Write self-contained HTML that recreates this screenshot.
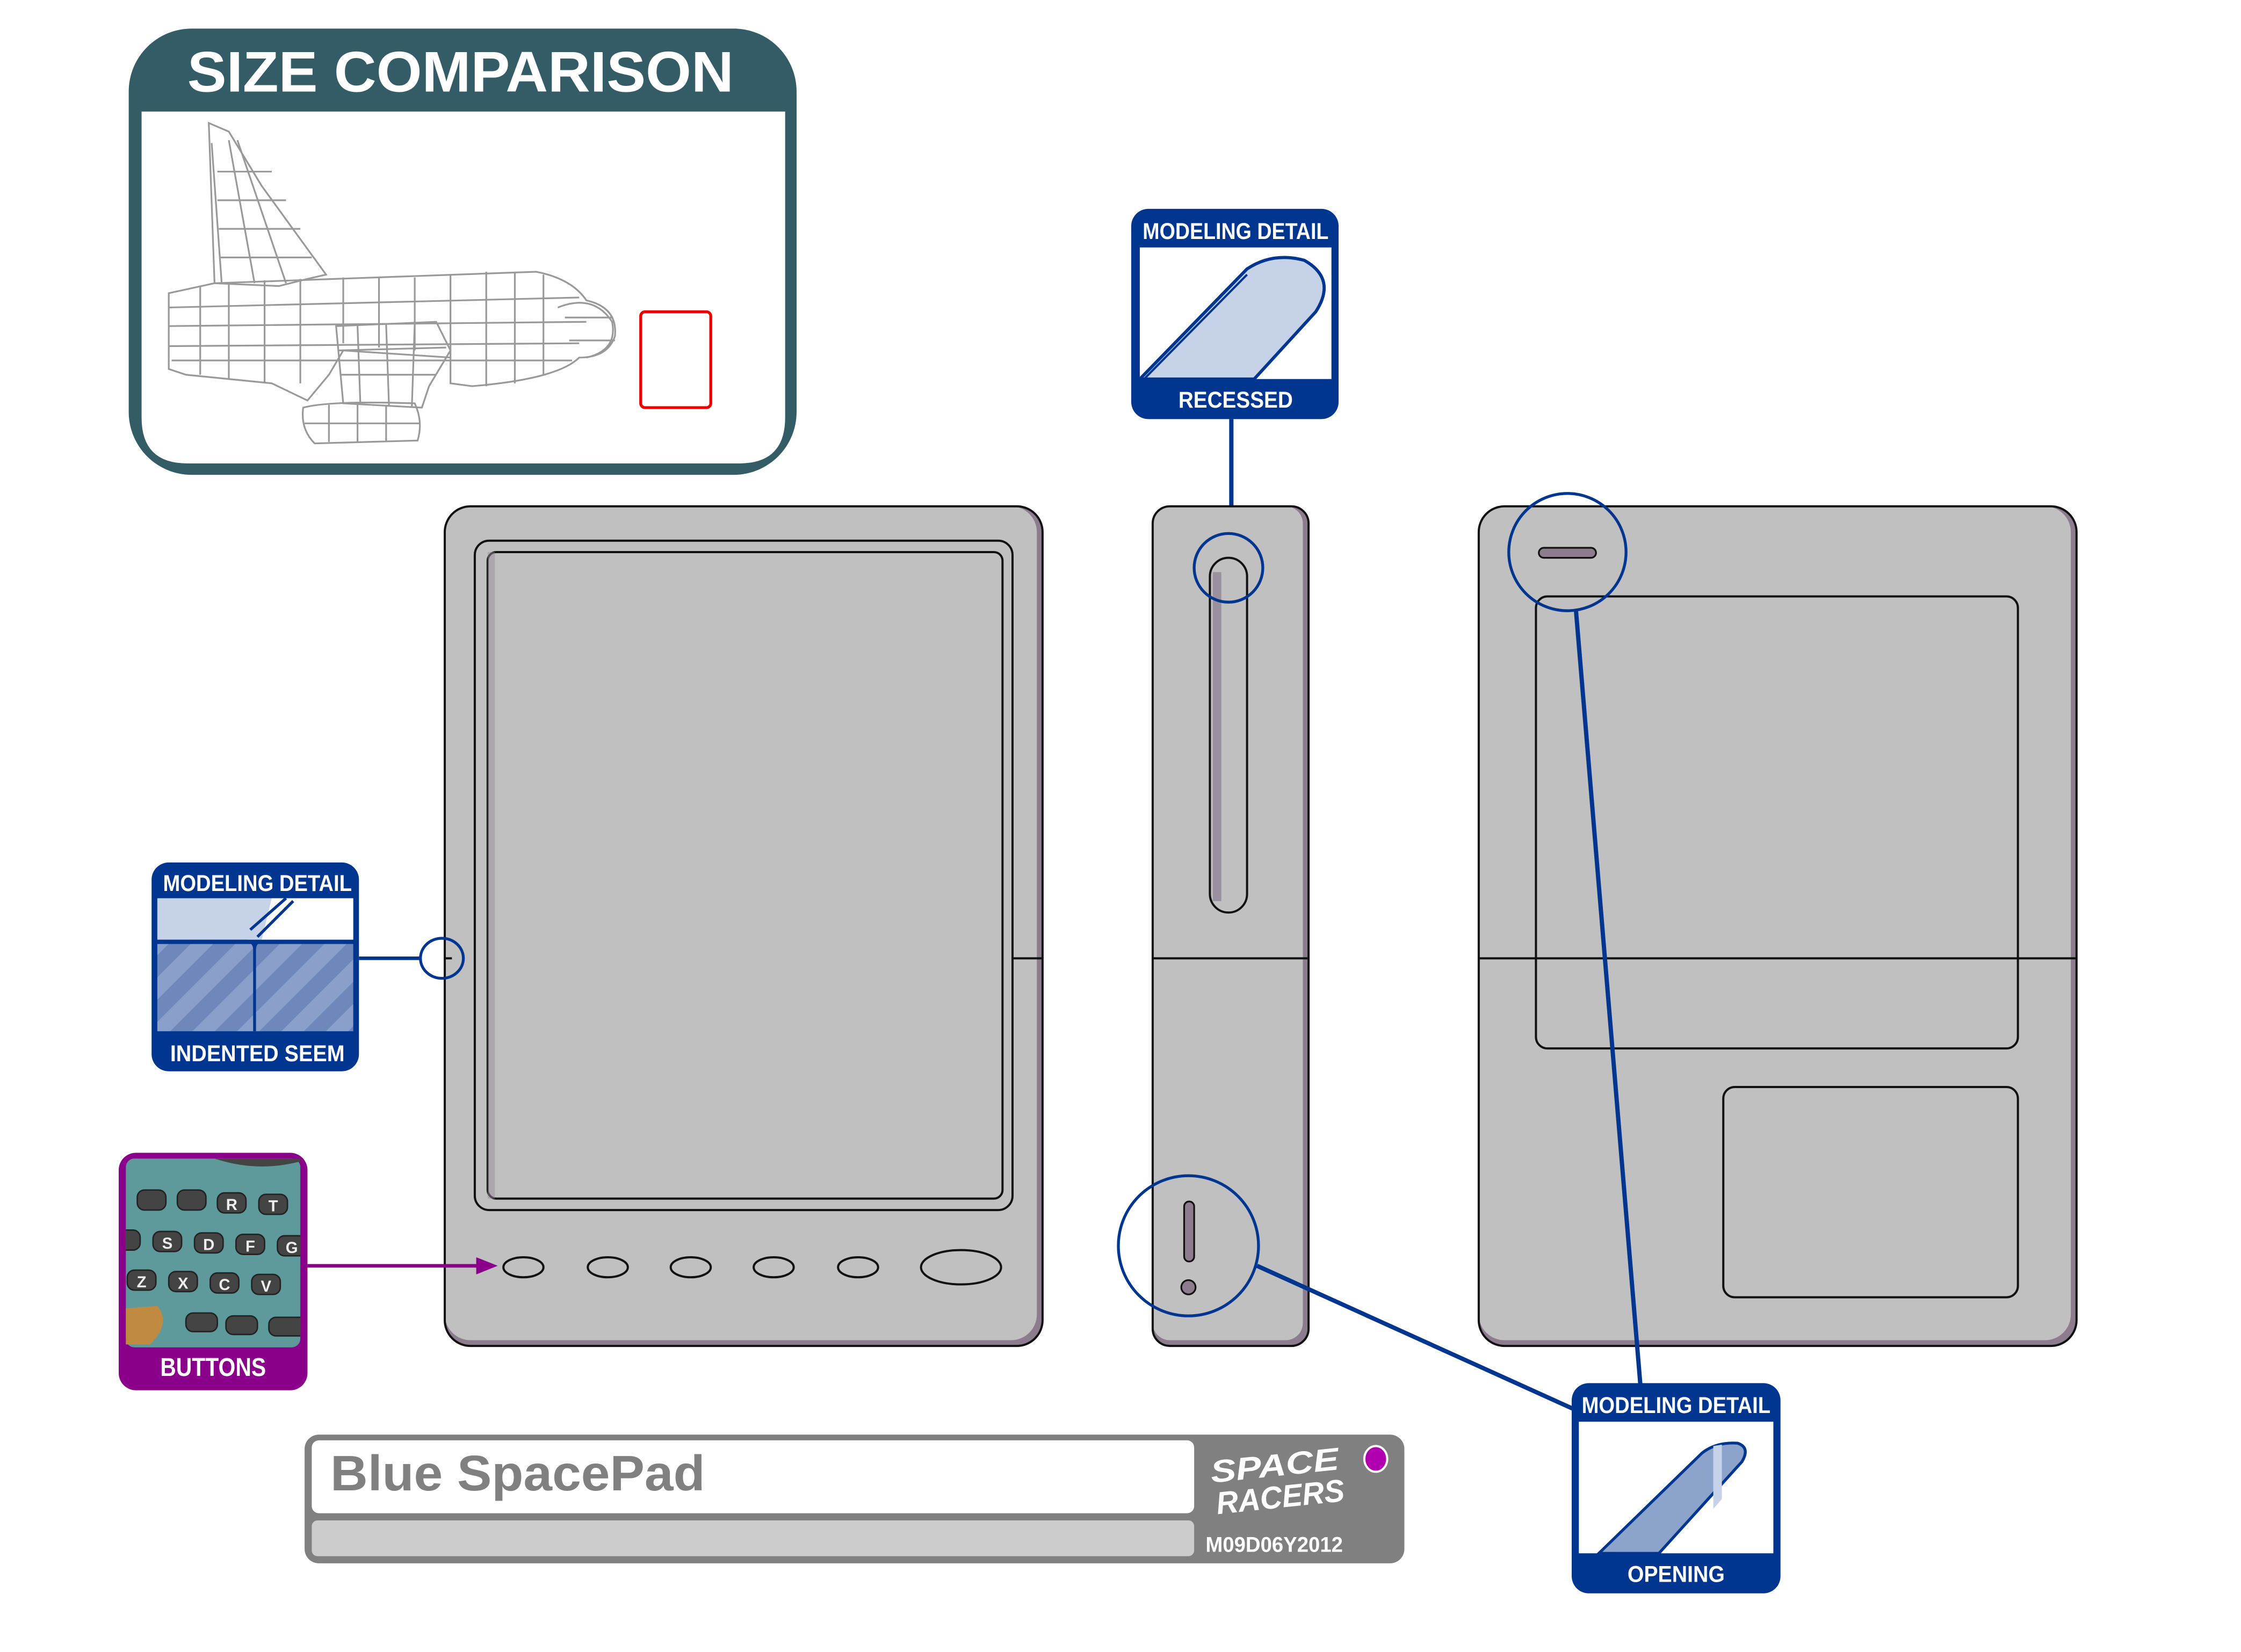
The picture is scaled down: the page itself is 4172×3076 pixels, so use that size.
<!DOCTYPE html>
<html><head><meta charset="utf-8"><style>
html,body{margin:0;padding:0;background:#fff;}
svg{display:block;}
text{font-family:"Liberation Sans",sans-serif;font-weight:bold;}
</style></head><body>
<svg width="4172" height="3076" viewBox="0 0 1567 1155" preserveAspectRatio="none" xmlns="http://www.w3.org/2000/svg">
<defs>
<pattern id="hatch" width="22" height="22" patternUnits="userSpaceOnUse" patternTransform="rotate(45)">
<rect width="22" height="22" fill="#8aa0cb"/><rect width="11" height="22" fill="#6f88bb"/>
</pattern>
<clipPath id="btnclip"><rect x="88" y="810" width="122" height="132"/></clipPath>
</defs>
<rect width="1567" height="1155" fill="#fff"/>

<!-- SIZE COMPARISON -->
<rect x="90" y="20" width="467" height="312" rx="44" fill="#335c66"/>
<path d="M99 78 H549 V292 Q549 324 517 324 H131 Q99 324 99 292 Z" fill="#fff"/>
<text x="322" y="64" fill="#fff" font-size="40" text-anchor="middle" textLength="382" lengthAdjust="spacingAndGlyphs">SIZE COMPARISON</text>
<rect x="448" y="218" width="49" height="67" rx="3" fill="none" stroke="#e00" stroke-width="2"/>
<g fill="none" stroke="#999" stroke-width="1.2">
<path d="M146 86 L160 92 L183 130 L228 192 L215 195 L195 200 L150 198 Z"/>
<path d="M148 100 L155 198 M152 120 L190 120 M152 140 L200 140 M153 160 L210 160 M154 180 L218 180 M160 98 L178 198 M166 98 L200 198"/>
<path d="M118 205 L150 198 L375 190 Q400 195 410 210 Q432 215 430 235 Q425 250 405 250 Q390 265 330 270 L315 268 L315 250 L240 245 L230 262 L215 280 L190 268 L130 262 L118 258 Z"/>
<path d="M140 200 L140 262 M160 198 L160 265 M185 196 L185 268 M210 195 L210 268 M240 194 L240 240 M265 194 L265 243 M290 194 L290 245 M315 192 L315 250 M340 190 L340 270 M360 190 L360 268 M380 192 L380 262"/>
<path d="M118 215 L405 208 M118 228 L410 225 M118 242 L405 240 M120 252 L400 252"/>
<path d="M235 228 L305 225 L315 245 L300 270 L295 285 L240 282 Z M250 228 L252 283 M270 227 L272 284 M290 226 L288 284 M237 245 L312 243 M238 262 L305 262"/>
<path d="M212 285 Q230 280 290 282 Q296 295 292 308 L220 310 Q210 300 212 285 Z M230 283 L230 309 M250 283 L250 309 M270 283 L270 309 M213 296 L294 296"/>
<path d="M390 215 Q415 205 428 225 Q432 245 410 250 M395 222 L428 222 M398 238 L430 238"/>
</g>

<!-- RECESSED box -->
<rect x="791" y="146" width="145" height="147" rx="12" fill="#00368f"/>
<rect x="797" y="173" width="134" height="92" fill="#fff"/>
<path d="M797 265 L872 188 Q890 176 912 182 Q935 195 920 218 L877 265 Z" fill="#c5d2e8" stroke="#00368f" stroke-width="2.2"/>
<path d="M800 265 L872 192" stroke="#00368f" stroke-width="1.5" fill="none"/>
<text x="864" y="167" fill="#fff" font-size="16" text-anchor="middle" textLength="130" lengthAdjust="spacingAndGlyphs">MODELING DETAIL</text>
<text x="864" y="285" fill="#fff" font-size="16" text-anchor="middle" textLength="80" lengthAdjust="spacingAndGlyphs">RECESSED</text>
<line x1="861" y1="293" x2="861" y2="374" stroke="#00368f" stroke-width="3"/>

<!-- FRONT device -->
<rect x="311" y="354" width="418" height="587" rx="18" fill="#8c7c8e"/>
<rect x="311" y="354" width="414" height="583" rx="18" fill="#c0c0c0"/>
<rect x="311" y="354" width="418" height="587" rx="18" fill="none" stroke="#111" stroke-width="1.5"/>
<line x1="708" y1="670" x2="729" y2="670" stroke="#111" stroke-width="1.5"/>
<line x1="311" y1="670" x2="316" y2="670" stroke="#111" stroke-width="1.5"/>
<rect x="332" y="378" width="376" height="468" rx="10" fill="#c0c0c0" stroke="#111" stroke-width="1.5"/>
<rect x="341" y="386" width="360" height="452" rx="6" fill="#c0c0c0" stroke="#111" stroke-width="1.5"/>
<rect x="341" y="386" width="5" height="452" fill="#9a8c9c" opacity="0.5"/>
<g fill="#c0c0c0" stroke="#111" stroke-width="1.5">
<ellipse cx="366" cy="886" rx="14" ry="7"/><ellipse cx="425" cy="886" rx="14" ry="7"/>
<ellipse cx="483" cy="886" rx="14" ry="7"/><ellipse cx="541" cy="886" rx="14" ry="7"/>
<ellipse cx="600" cy="886" rx="14" ry="7"/><ellipse cx="672" cy="886" rx="28" ry="12"/>
</g>

<!-- indented seem -->
<rect x="106" y="603" width="145" height="146" rx="12" fill="#00368f"/>
<rect x="110" y="628" width="137" height="29" fill="#c5d2e8"/>
<path d="M190 628 L247 628 L247 657 L183 657 Z" fill="#fff"/>
<rect x="110" y="660" width="137" height="61" fill="url(#hatch)"/>
<path d="M110 658 H172 Q178 658 178 664 V721 M178 664 Q178 658 184 658 H247 M180 655 L205 630 M175 650 L200 628" stroke="#00368f" stroke-width="2" fill="none"/>
<text x="180" y="623" fill="#fff" font-size="16" text-anchor="middle" textLength="132" lengthAdjust="spacingAndGlyphs">MODELING DETAIL</text>
<text x="180" y="742" fill="#fff" font-size="16" text-anchor="middle" textLength="122" lengthAdjust="spacingAndGlyphs">INDENTED SEEM</text>
<line x1="251" y1="670" x2="294" y2="670" stroke="#00368f" stroke-width="2.5"/>
<ellipse cx="309" cy="670" rx="15" ry="14" fill="none" stroke="#00368f" stroke-width="2"/>

<!-- BUTTONS -->
<rect x="83" y="806" width="132" height="166" rx="12" fill="#8b008b"/>
<rect x="88" y="810" width="122" height="132" rx="6" fill="#5e9a9c"/>
<g clip-path="url(#btnclip)" font-size="11" fill="#eee" text-anchor="middle">
<path d="M150 810 Q180 820 210 812 L210 810 Z" fill="#444"/>
<g fill="#444" stroke="#222" stroke-width="1">
<rect x="96" y="832" width="20" height="14" rx="5"/><rect x="124" y="832" width="20" height="14" rx="5"/>
<rect x="152" y="834" width="20" height="14" rx="5"/><rect x="181" y="835" width="20" height="14" rx="5"/>
<rect x="78" y="860" width="20" height="14" rx="5"/><rect x="107" y="861" width="20" height="14" rx="5"/>
<rect x="136" y="862" width="20" height="14" rx="5"/><rect x="165" y="863" width="20" height="14" rx="5"/><rect x="194" y="864" width="20" height="14" rx="5"/>
<rect x="89" y="888" width="20" height="14" rx="5"/><rect x="118" y="889" width="20" height="14" rx="5"/>
<rect x="147" y="890" width="20" height="14" rx="5"/><rect x="176" y="891" width="20" height="14" rx="5"/>
<rect x="130" y="918" width="22" height="13" rx="5"/><rect x="158" y="920" width="22" height="13" rx="5"/><rect x="188" y="921" width="28" height="13" rx="5"/>
</g>
<path d="M85 915 L110 913 Q120 925 105 940 L85 940 Z" fill="#c08a40"/>
<text x="162" y="846">R</text><text x="191" y="847">T</text>
<text x="117" y="873">S</text><text x="146" y="874">D</text><text x="175" y="875">F</text><text x="204" y="876">G</text>
<text x="99" y="900">Z</text><text x="128" y="901">X</text><text x="157" y="902">C</text><text x="186" y="903">V</text>
</g>
<text x="149" y="962" fill="#fff" font-size="18" text-anchor="middle" textLength="74" lengthAdjust="spacingAndGlyphs">BUTTONS</text>
<line x1="215" y1="885" x2="336" y2="885" stroke="#8b008b" stroke-width="2.5"/>
<path d="M348 885 L333 879 L333 891 Z" fill="#8b008b"/>

<!-- SIDE device -->
<rect x="806" y="354" width="109" height="587" rx="12" fill="#8c7c8e"/>
<rect x="806" y="354" width="105" height="583" rx="12" fill="#c0c0c0"/>
<rect x="806" y="354" width="109" height="587" rx="12" fill="none" stroke="#111" stroke-width="1.5"/>
<line x1="806" y1="670" x2="915" y2="670" stroke="#111" stroke-width="1.5"/>
<rect x="846" y="390" width="26" height="248" rx="13" fill="#c0c0c0" stroke="#111" stroke-width="1.5"/>
<rect x="848" y="400" width="6" height="230" fill="#8c7c8e" opacity="0.7"/>
<ellipse cx="859" cy="397" rx="24" ry="24" fill="none" stroke="#00368f" stroke-width="2"/>
<rect x="828" y="840" width="7" height="42" rx="3.5" fill="#8c7c8e" stroke="#111" stroke-width="1.2"/>
<circle cx="831" cy="900" r="5" fill="#8c7c8e" stroke="#111" stroke-width="1.2"/>
<circle cx="831" cy="871" r="49" fill="none" stroke="#00368f" stroke-width="2"/>
<line x1="879" y1="885" x2="1100" y2="985" stroke="#00368f" stroke-width="3"/>

<!-- BACK device -->
<rect x="1034" y="354" width="418" height="587" rx="18" fill="#8c7c8e"/>
<rect x="1034" y="354" width="414" height="583" rx="18" fill="#c0c0c0"/>
<rect x="1034" y="354" width="418" height="587" rx="18" fill="none" stroke="#111" stroke-width="1.5"/>
<line x1="1034" y1="670" x2="1452" y2="670" stroke="#111" stroke-width="1.5"/>
<rect x="1074" y="417" width="337" height="316" rx="8" fill="none" stroke="#111" stroke-width="1.5"/>
<rect x="1205" y="760" width="206" height="147" rx="8" fill="none" stroke="#111" stroke-width="1.5"/>
<rect x="1076" y="383" width="40" height="7" rx="3.5" fill="#8c7c8e" stroke="#111" stroke-width="1.2"/>
<circle cx="1096" cy="386" r="41" fill="none" stroke="#00368f" stroke-width="2"/>
<line x1="1102" y1="427" x2="1147" y2="968" stroke="#00368f" stroke-width="3"/>

<!-- OPENING box -->
<rect x="1099" y="967" width="146" height="147" rx="12" fill="#00368f"/>
<rect x="1104" y="994" width="136" height="92" fill="#fff"/>
<path d="M1118 1086 L1190 1016 Q1200 1008 1215 1009 Q1224 1012 1218 1022 L1160 1086 Z" fill="#8ca3cc" stroke="#00368f" stroke-width="2"/>
<path d="M1198 1011 L1198 1055 L1204 1048 L1204 1010 Z" fill="#c5d2e8"/>
<text x="1172" y="988" fill="#fff" font-size="16" text-anchor="middle" textLength="132" lengthAdjust="spacingAndGlyphs">MODELING DETAIL</text>
<text x="1172" y="1106" fill="#fff" font-size="16" text-anchor="middle" textLength="68" lengthAdjust="spacingAndGlyphs">OPENING</text>

<!-- Title bar -->
<rect x="213" y="1003" width="769" height="90" rx="10" fill="#808080"/>
<rect x="218" y="1007" width="617" height="51" rx="5" fill="#fff"/>
<rect x="218" y="1063" width="617" height="25" rx="4" fill="#cccccc"/>
<text x="231" y="1042" fill="#808080" font-size="35" textLength="262" lengthAdjust="spacingAndGlyphs">Blue SpacePad</text>
<text x="892" y="1032" fill="#fff" font-size="22" font-style="italic" text-anchor="middle" textLength="90" lengthAdjust="spacingAndGlyphs" transform="rotate(-6 892 1032)">SPACE</text>
<text x="896" y="1054" fill="#fff" font-size="22" font-style="italic" text-anchor="middle" textLength="90" lengthAdjust="spacingAndGlyphs" transform="rotate(-6 896 1054)">RACERS</text>
<text x="843" y="1085" fill="#fff" font-size="15" font-weight="normal" textLength="96" lengthAdjust="spacingAndGlyphs">M09D06Y2012</text>
<ellipse cx="962" cy="1020" rx="8" ry="9" fill="#b000b0" stroke="#fff" stroke-width="1.5"/>
</svg>
</body></html>
